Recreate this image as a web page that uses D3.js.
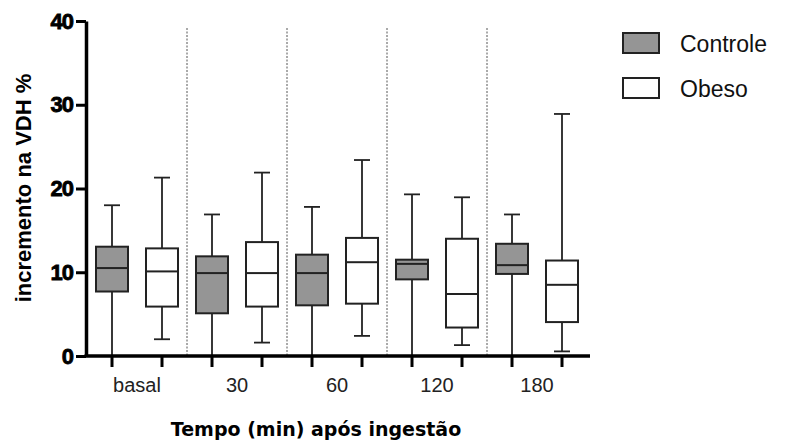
<!DOCTYPE html>
<html>
<head>
<meta charset="utf-8">
<script src="https://cdn.jsdelivr.net/npm/d3@7"></script>
<style>
  body { margin: 0; background: #fff; }
  svg { display: block; }
</style>
</head>
<body>
<div id="container"></div>
<script>
// values: [min, q1, median, q3, max]
var categories = ["basal", "30", "60", "120", "180"];
var groups = ["Controle", "Obeso"];
var controle = [
    [0, 7.7, 10.5, 13.05, 18.0],
    [0, 5.1, 9.9, 11.9, 16.9],
    [0, 6.05, 9.9, 12.1, 17.8],
    [0, 9.15, 11.0, 11.5, 19.3],
    [0, 9.8, 10.85, 13.4, 16.9]
];
var obeso = [
    [2.0, 5.9, 10.1, 12.85, 21.3],
    [1.6, 5.9, 9.9, 13.6, 21.9],
    [2.4, 6.25, 11.2, 14.1, 23.4],
    [1.3, 3.4, 7.4, 14.0, 18.95],
    [0.55, 4.05, 8.5, 11.4, 28.9]
];
var yTicks = [0, 10, 20, 30, 40];
var fills = {"Controle": "#959595", "Obeso": "#ffffff"};

var width = 785, height = 443;
var svg = d3.select("#container")
    .append("svg")
    .attr("width", width)
    .attr("height", height);

var y = d3.scaleLinear().domain([0, 40]).range([356, 21]);
var x = d3.scaleBand().domain(categories).range([87, 587]);
var xs = d3.scalePoint().domain(groups).range([0, x.bandwidth()]).padding(0.5);

var boxW = 32, capW = 16;

// dotted separators between time points
svg.selectAll(".sep")
    .data(categories.slice(1))
    .enter()
    .append("line")
        .attr("x1", function(d){ return x(d) })
        .attr("x2", function(d){ return x(d) })
        .attr("y1", 28)
        .attr("y2", y(0))
        .style("stroke", "#555")
        .style("stroke-width", 1)
        .style("stroke-dasharray", "2,1.5");

// flatten to one row per box
var rows = [];
categories.forEach(function(c, i){
    rows.push({cat: c, grp: "Controle", v: controle[i]});
    rows.push({cat: c, grp: "Obeso", v: obeso[i]});
});
function cx(d){ return x(d.cat) + xs(d.grp) }

var box = svg.selectAll(".box")
    .data(rows)
    .enter()
    .append("g");

// whiskers
box.append("line")
    .attr("x1", cx).attr("x2", cx)
    .attr("y1", function(d){ return y(d.v[0]) })
    .attr("y2", function(d){ return y(d.v[4]) })
    .style("stroke", "#222").style("stroke-width", 1.8);
box.append("line")
    .attr("x1", function(d){ return cx(d) - capW/2 })
    .attr("x2", function(d){ return cx(d) + capW/2 })
    .attr("y1", function(d){ return y(d.v[4]) })
    .attr("y2", function(d){ return y(d.v[4]) })
    .style("stroke", "#222").style("stroke-width", 1.8);
box.filter(function(d){ return d.v[0] > 0 })
    .append("line")
    .attr("x1", function(d){ return cx(d) - capW/2 })
    .attr("x2", function(d){ return cx(d) + capW/2 })
    .attr("y1", function(d){ return y(d.v[0]) })
    .attr("y2", function(d){ return y(d.v[0]) })
    .style("stroke", "#222").style("stroke-width", 1.8);
// box
box.append("rect")
    .attr("x", function(d){ return cx(d) - boxW/2 })
    .attr("y", function(d){ return y(d.v[3]) })
    .attr("width", boxW)
    .attr("height", function(d){ return y(d.v[1]) - y(d.v[3]) })
    .style("fill", function(d){ return fills[d.grp] })
    .style("stroke", "#222")
    .style("stroke-width", 2);
// median
box.append("line")
    .attr("x1", function(d){ return cx(d) - boxW/2 })
    .attr("x2", function(d){ return cx(d) + boxW/2 })
    .attr("y1", function(d){ return y(d.v[2]) })
    .attr("y2", function(d){ return y(d.v[2]) })
    .style("stroke", "#222").style("stroke-width", 2);

// y axis
var yAxis = svg.append("g")
    .attr("transform", "translate(86,0)")
    .call(d3.axisLeft(y).tickValues(yTicks).tickSize(10).tickPadding(3).tickSizeOuter(0));
yAxis.select(".domain").style("stroke", "#000").style("stroke-width", 3.5);
yAxis.selectAll(".tick line").style("stroke", "#000").style("stroke-width", 3);
yAxis.selectAll(".tick text")
    .attr("font-family", "Liberation Sans, Arial, sans-serif")
    .attr("font-weight", "bold")
    .attr("font-size", "22px")
    .attr("letter-spacing", "-1px")
    .attr("fill", "#000")
    .style("stroke", "#000")
    .style("stroke-width", 0.8);

// x axis
svg.append("line")
    .attr("x1", 84.5).attr("x2", 590)
    .attr("y1", y(0)).attr("y2", y(0))
    .style("stroke", "#000").style("stroke-width", 3.5);
svg.selectAll(".xtick")
    .data(rows)
    .enter()
    .append("line")
        .attr("x1", cx).attr("x2", cx)
        .attr("y1", y(0)).attr("y2", y(0) + 11)
        .style("stroke", "#000").style("stroke-width", 3);
svg.selectAll(".xlab")
    .data(categories)
    .enter()
    .append("text")
        .attr("x", function(d){ return x(d) + x.bandwidth()/2 })
        .attr("y", 392)
        .attr("text-anchor", "middle")
        .attr("font-family", "Liberation Sans, Arial, sans-serif")
        .attr("font-size", "20px")
        .attr("fill", "#222")
        .text(function(d){ return d });

// axis titles
svg.append("text")
    .attr("x", 316)
    .attr("y", 436)
    .attr("text-anchor", "middle")
    .attr("font-family", "DejaVu Sans, Verdana, sans-serif")
    .attr("font-weight", "bold")
    .attr("font-size", "19px")
    .attr("fill", "#000")
    .text("Tempo (min) após ingestão");
svg.append("text")
    .attr("transform", "translate(31,188) rotate(-90)")
    .attr("text-anchor", "middle")
    .attr("font-family", "Liberation Sans, Arial, sans-serif")
    .attr("font-weight", "bold")
    .attr("font-size", "22px")
    .attr("fill", "#000")
    .text("incremento na VDH %");

// legend
var legend = svg.selectAll(".legend")
    .data(groups)
    .enter()
    .append("g")
        .attr("transform", function(d, i){ return "translate(623," + (33 + i*45) + ")" });
legend.append("rect")
    .attr("width", 36).attr("height", 20)
    .style("fill", function(d){ return fills[d] })
    .style("stroke", "#222").style("stroke-width", 2);
legend.append("text")
    .attr("x", 57).attr("y", 19)
    .attr("font-family", "Liberation Sans, Arial, sans-serif")
    .attr("font-size", "23px")
    .attr("fill", "#111")
    .text(function(d){ return d });
</script>
</body>
</html>
